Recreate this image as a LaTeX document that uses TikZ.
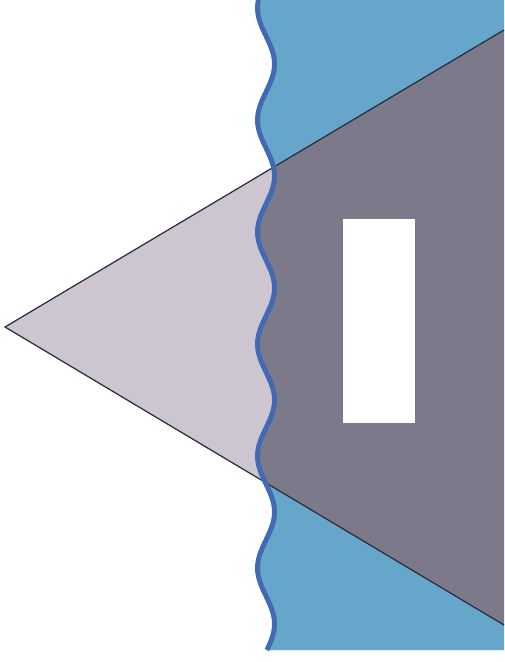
\documentclass[tikz,border=0pt]{standalone}
\usetikzlibrary{calc}
\definecolor{WaterBlue}{RGB}{102,166,203}
\definecolor{ShoreLine}{RGB}{66,106,178}
\definecolor{BeamLight}{RGB}{205,197,208}
\definecolor{BeamDark}{RGB}{124,121,139}
\definecolor{EdgeGray}{RGB}{40,45,60}

\begin{document}
\begin{tikzpicture}[x=0.02cm, y=-0.02cm]
          \useasboundingbox (0,0) rectangle (504,662);
          \fill[white] (0,0) rectangle (504,662);
          \coordinate (apex) at (5,327);
          \coordinate (topend) at (504,30);
          \coordinate (botend) at (504,625);
          \def\shore{plot[domain=0:650, samples=200, smooth] ({266-8.5*cos((\x-120)/112*360)},\x)}
          \fill[WaterBlue] \shore -- (504,650) -- (504,0) -- cycle;
          \fill[BeamLight] (apex) -- (topend) -- (botend) -- cycle;
          \begin{scope}
            \clip \shore -- (504,650) -- (504,0) -- cycle;
            \fill[BeamDark] (apex) -- (topend) -- (botend) -- cycle;
          \end{scope}
          \draw[EdgeGray, line width=0.7pt] (topend) -- (apex) -- (botend);
          \draw[ShoreLine, line width=2.8pt, line join=round] \shore;
          \fill[white] (343,219) rectangle (415,423);
        \end{tikzpicture}
\end{document}
